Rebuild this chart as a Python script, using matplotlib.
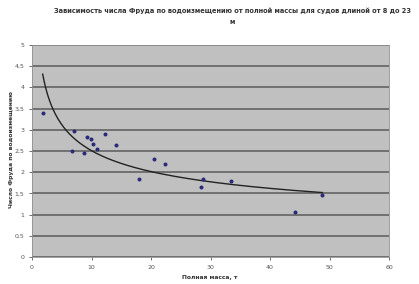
import numpy as np
import matplotlib
matplotlib.use("Agg")
import matplotlib.pyplot as plt
from matplotlib.ticker import FuncFormatter

# Data
mass = [1.8, 7.1, 6.8, 8.7, 9.3, 9.9, 10.25, 10.9, 12.2, 14.2, 17.9,
        20.5, 22.4, 28.4, 28.8, 33.4, 44.2, 48.8]
froude = [3.40, 2.96, 2.51, 2.46, 2.82, 2.78, 2.67, 2.55, 2.91, 2.63, 1.85,
          2.31, 2.19, 1.65, 1.84, 1.80, 1.05, 1.46]

title = "Зависимость числа Фруда по водоизмещению от полной массы для судов длиной от 8 до 23\nм"
xlabel = "Полная масса, т"
ylabel = "Число Фруда по водоизмещению"

# Power trendline (like Excel), fitted in log space
b, loga = np.polyfit(np.log(mass), np.log(froude), 1)
xs = np.linspace(min(mass), max(mass), 200)
ys = np.exp(loga) * xs ** b

fig = plt.figure(figsize=(4.19, 2.84), dpi=100)
ax = fig.add_axes([32 / 419, 27 / 284, 357 / 419, 212 / 284])
ax.set_facecolor("#c0c0c0")

ax.plot(xs, ys, color="#222222", lw=1.0, zorder=3)
ax.scatter(mass, froude, marker="o", s=3.5, color="#2a2a7a", zorder=4)

ax.set_xlim(0, 60)
ax.set_ylim(0, 5)
ax.set_xticks(range(0, 61, 10))
ax.set_yticks(np.arange(0, 5.01, 0.5))
ax.yaxis.set_major_formatter(FuncFormatter(lambda v, p: ("%g" % v).replace(".", ",")))
ax.grid(axis="y", color="#6a6a6a", lw=1.3)
ax.set_axisbelow(True)
ax.tick_params(labelsize=4.5, colors="#555555", length=2, width=0.6)
for s in ax.spines.values():
    s.set_color("#909090")
    s.set_linewidth(0.6)

fig.text(232 / 419, 1 - 16.5 / 284, title, ha="center", va="center",
         fontsize=4.8, fontweight="bold", color="#333333", linespacing=2.1)
fig.text(210 / 419, 1 - 278 / 284, xlabel, ha="center", va="center",
         fontsize=4.3, fontweight="bold", color="#333333")
fig.text(12 / 419, 1 - 150 / 284, ylabel, ha="center", va="center",
         rotation=90, fontsize=4.3, fontweight="bold", color="#333333")

fig.savefig("out.png", dpi=100)
